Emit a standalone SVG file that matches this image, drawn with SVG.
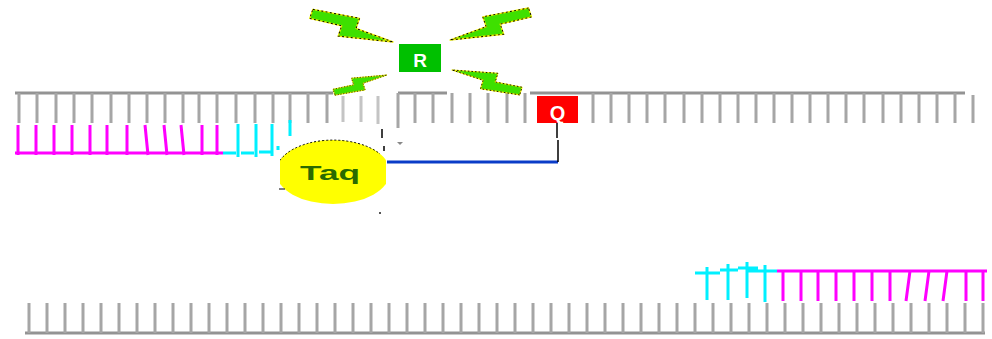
<svg xmlns="http://www.w3.org/2000/svg" xmlns:xlink="http://www.w3.org/1999/xlink" width="992" height="339" viewBox="0 0 992 339">
  <style>
    .backbone { stroke: #939393; stroke-width: 3; fill: none; }
    .teeth { stroke: #a6a6a6; stroke-width: 3; fill: none; }
    .teeth-light { stroke: #c4c4c4; stroke-width: 3; fill: none; }
    .magenta { stroke: #ff00ff; stroke-width: 3; fill: none; }
    .cyan { stroke: #00f0ff; stroke-width: 3; fill: none; }
    .label { font-family: "Liberation Sans", Arial, sans-serif; font-weight: bold; text-anchor: middle; }
  </style>
  <defs>
    <!-- lightning bolt, tip at the origin, body running toward -x -->
    <g id="bolt">
      <path d="M-90,-5 L-41,-12 L-41,-0.8 L0,0 L-56,12.8 L-56,1.5 L-90,5 Z" fill="#3ee000" stroke="#f0f000" stroke-width="1.4" stroke-linejoin="round"/>
      <path d="M-90,-5 L-41,-12 L-41,-0.8 L0,0 L-56,12.8 L-56,1.5 L-90,5 Z" fill="none" stroke="#000" stroke-width="1" stroke-dasharray="2 2.5"/>
    </g>
    <clipPath id="taq-clip">
      <rect x="280" y="138" width="106" height="66"/>
    </clipPath>
  </defs>

  <rect width="992" height="339" fill="#ffffff"/>

  <!-- upper template strand -->
  <g id="strand-top">
    <path class="backbone" d="M15,93 H333 M398,93 H447 M530,93 H965"/>
    <path class="teeth" d="M19,93 V123 M37,93 V123 M56,93 V123 M74,93 V123 M92,93 V123 M111,93 V123 M129,93 V123 M147,93 V123 M165,93 V123 M183,93 V123 M199,93 V123 M217,93 V123 M236,93 V123 M255,93 V123 M273,93 V123 M290,93 V123 M308,93 V123 M327,93 V123 M398,93 V128 M415,93 V123 M433,93 V123 M452,93 V123 M470,93 V123 M488,93 V123 M507,93 V123 M525,93 V123 M593,93 V123 M611,93 V123 M629,93 V123 M647,93 V123 M665,93 V123 M684,93 V123 M702,93 V123 M720,93 V123 M738,93 V123 M756,93 V123 M774,93 V123 M792,93 V123 M810,93 V123 M828,93 V123 M846,93 V123 M864,93 V123 M883,93 V123 M901,93 V123 M919,93 V123 M937,93 V123 M955,93 V123 M973,95 V123"/>
    <path class="teeth-light" d="M343,96 V122 M361,96 V122 M378,96 V124"/>
  </g>

  <!-- upper primer being extended -->
  <g id="primer-top">
    <path class="magenta" d="M15,153 H223 M18,125 V155 M36,125 V155 M54,125 V155 M72,125 V155 M90,125 V155 M107,125 V155 M127,125 V155 M145,125 L148,155 M164,125 L167,155 M181,125 L184,155 M202,125 V155 M217,125 V155"/>
    <path class="cyan" d="M223,153 H236 M241,153 H254 M259,152 H271 M238,124 V157 M256,124 V157 M272,124 V156 M290,120 V136 M278,146 V150"/>
  </g>

  <!-- lower template strand -->
  <g id="strand-bottom">
    <path class="backbone" d="M25,333 H985"/>
    <path class="teeth" d="M29,303 V333 M47,303 V333 M65,303 V333 M83,303 V333 M101,303 V333 M119,303 V333 M137,303 V333 M155,303 V333 M173,303 V333 M191,303 V333 M209,303 V333 M227,303 V333 M245,303 V333 M263,303 V333 M281,303 V333 M299,303 V333 M317,303 V333 M335,303 V333 M353,303 V333 M371,303 V333 M389,303 V333 M407,303 V333 M425,303 V333 M443,303 V333 M461,303 V333 M479,303 V333 M497,303 V333 M515,303 V333 M533,303 V333 M551,303 V333 M569,303 V333 M587,303 V333 M605,303 V333 M623,303 V333 M641,303 V333 M659,303 V333 M677,303 V333 M695,303 V333 M713,303 V333 M731,303 V333 M749,303 V333 M767,303 V333 M785,303 V333 M803,303 V333 M821,303 V333 M839,303 V333 M857,303 V333 M875,303 V333 M893,303 V333 M911,303 V333 M929,303 V333 M947,303 V333 M965,303 V333 M983,303 V333"/>
  </g>

  <!-- lower primer -->
  <g id="primer-bottom">
    <path class="cyan" d="M695,273 H720 M720,270 H738 M738,268 H758 M746,271 H777 M707,267 V300 M728,264 V300 M747,262 V298 M765,265 V302"/>
    <path class="magenta" d="M777,271 H987 M783,271 V301 M801,271 V301 M818,271 V301 M836,271 V301 M854,271 V301 M872,271 V301 M890,271 V301 M910,271 L906,301 M929,271 L925,301 M947,271 L943,301 M966,271 V301 M983,271 V301"/>
  </g>

  <!-- fluorescence flashes around the released reporter -->
  <g id="flashes">
    <use xlink:href="#bolt" href="#bolt" transform="translate(393,42) rotate(19) scale(0.96)"/>
    <use xlink:href="#bolt" href="#bolt" transform="translate(450,40) scale(-1,1) rotate(19) scale(0.94)"/>
    <use xlink:href="#bolt" href="#bolt" transform="translate(387,75) scale(1,-1) rotate(18) scale(0.62)"/>
    <use xlink:href="#bolt" href="#bolt" transform="translate(452,70) scale(-1,-1) rotate(17) scale(0.8)"/>
  </g>

  <!-- probe body and quencher stem -->
  <g id="connectors">
    <path d="M387,162 H558" stroke="#0a3cc8" stroke-width="3" fill="none"/>
    <path d="M557,123 V138 M558,140 V162" stroke="#000" stroke-width="1.5" fill="none"/>
    <path d="M382,129 V138 M384,146 V151" stroke="#000" stroke-width="1.5" fill="none"/>
    <path d="M397,142 H403 L400,145 Z" fill="#888"/>
    <rect x="379" y="212" width="2" height="2" fill="#555"/>
  </g>

  <!-- reporter dye -->
  <g id="reporter">
    <rect x="399" y="44" width="42" height="28" fill="#00c000"/>
    <text class="label" x="420" y="67" font-size="19" fill="#ffffff">R</text>
  </g>

  <!-- quencher dye -->
  <g id="quencher">
    <rect x="537" y="96" width="41" height="27" fill="#ff0000"/>
    <text class="label" x="557.5" y="120" font-size="20" fill="#ffffff">Q</text>
  </g>

  <!-- Taq polymerase -->
  <g id="taq">
    <g clip-path="url(#taq-clip)">
      <ellipse cx="333" cy="172" rx="57" ry="32" fill="#ffff00"/>
      <path d="M279.4,183 A57,32 0 0 1 380,154" fill="none" stroke="#000" stroke-width="1" stroke-dasharray="2 2"/>
    </g>
    <path d="M279,189 H285" stroke="#000" stroke-width="1"/>
    <text class="label" x="330" y="180" font-size="21" fill="#2a6a00" textLength="60" lengthAdjust="spacingAndGlyphs">Taq</text>
  </g>
</svg>
